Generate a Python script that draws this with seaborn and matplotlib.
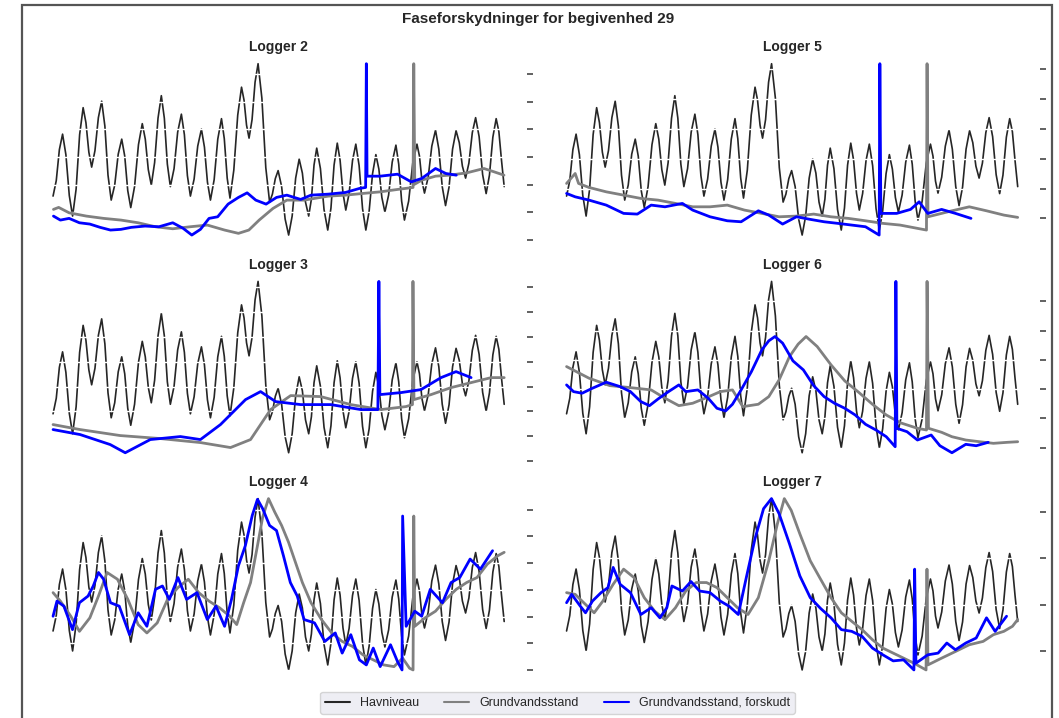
import numpy as np
import pandas as pd
import matplotlib
matplotlib.use("Agg")
import matplotlib.pyplot as plt
from matplotlib.ticker import MultipleLocator
from matplotlib.patches import Rectangle
from matplotlib.lines import Line2D
import seaborn as sns

# ---------------- data (time index, water level in cm) ----------------
havniveau_t = [0, 3.2, 6.3, 9.5, 12.8, 16.2, 19.5, 23, 26.5, 30, 32.8, 35.7, 38.5, 41.8, 45.2, 48.5,
               51.7, 54.8, 58, 61.5, 65, 68.5, 71.5, 74.5, 77.5, 81.3, 85.2, 89, 92, 95, 98, 101.3,
               104.7, 108, 111, 114, 117, 120.7, 124.3, 128, 131, 134, 137, 140.7, 144.3, 148, 151,
               154, 157, 160.7, 164.3, 168, 170.8, 173.7, 176.5, 180.3, 184.2, 188, 190.5, 193, 195.5,
               198.5, 201.5, 204.5, 208.3, 212.2, 216, 218.8, 221.7, 224.5, 228, 231.5, 235, 238.5,
               242, 245.5, 248.7, 251.8, 255, 257.7, 260.3, 263, 266.7, 270.3, 274, 277.2, 280.3,
               283.5, 286.3, 289.2, 292, 295.3, 298.7, 302, 305.3, 308.7, 312, 315.3, 318.7, 322, 325,
               328, 331, 334.7, 338.3, 342, 344.8, 347.7, 350.5, 354.7, 358.8, 363, 365.5, 368, 370.5,
               374.2, 377.8, 381.5, 384.8, 388.2, 391.5, 395, 398.5, 402, 405.2, 408.3, 411.5, 414.8,
               418.2, 421.5, 425, 428.5, 432, 435.3, 438.7, 442, 444.7, 447.3, 450]
havniveau_cm = [-46, -30.5, 0.5, 16, -4.5, -45.5, -66, -39, 15.5, 42.5, 27.5, -2, -17, -0.5, 32.5, 49,
                24, -25, -50, -35, -4, 11, -6, -40.5, -57.5, -36.5, 5.5, 26.5, 11, -19.5, -35, -12.5,
                32, 54.5, 32, -14, -36.5, -18.5, 18, 36, 15.5, -25.5, -46, -29, 4, 21, 3,
                -32, -50, -29.5, 11, 31.5, 11.5, -28, -48, -20, 35, 63, 50, 25, 12,
                30.5, 68, 86.5, 52, -17.5, -52, -44, -28.5, -20.5, -36.5, -69, -85, -66,
                -28, -9, -23, -52, -66, -49, -15, 2, -18.5, -59.5, -80, -58, -15,
                7, -10, -43, -60, -43.5, -10.5, 6, -15.5, -58.5, -80, -61, -23.5, -4.5, -19,
                -47.5, -62, -45, -12, 5, -14, -51, -70, -51, -13, 6, -6, -31, -43,
                -27, 4, 20, 1, -36.5, -55.5, -37, 1, 19.5, 7.5, -16, -28, -13,
                17.5, 32.5, 13.5, -24.5, -43.5, -25, 13, 31.5, 18.5, -10, -36.5]

# Logger 2
l2_grund_t = [0.4, 5.6, 16, 33.2, 50.4, 67.7, 84.9, 102.2, 119.4, 136.7, 153.9, 171.1, 184.9, 195.3,
              205.6, 219.4, 233.2, 250.4, 274.6, 291.8, 309.1, 326.3, 343.6, 359.1, 359.8, 360.8,
              367.7, 381.5, 395.3, 412.5, 429.8, 440.1, 449.8]
l2_grund_cm = [30.7, 32.7, 27.3, 24, 21.7, 20, 17.3, 13.3, 11.3, 13.3, 15, 10, 6.7, 10, 20, 31.7, 40,
               40, 44, 45, 46.7, 48.3, 50.7, 52.7, 176.7, 56, 60, 64, 65, 67.3, 71.7, 68.3, 65]
l2_forsk_t = [0.4, 7.3, 16, 26.3, 36.7, 47, 57.3, 67.7, 78, 91.8, 105.6, 119.4, 129.8, 138.4, 147,
              155.6, 164.2, 174.6, 184.9, 193.6, 202.2, 212.5, 222.9, 233.2, 247, 257.3, 274.6,
              291.8, 305.6, 311.8, 312.5, 313.2, 326.3, 343.6, 357.3, 367.7, 381.5, 391.8, 402.2]
l2_forsk_cm = [24, 20, 21.7, 17.3, 16, 12.7, 10, 10.7, 12.7, 14, 13.3, 17.3, 11.7, 5, 10.7, 21.7,
               23.3, 36, 42.7, 47.3, 40, 36, 42.7, 45, 40.7, 45, 46, 47.7, 51.7, 52.7, 176.7, 64,
               64, 66, 58.3, 61.7, 71.7, 66.7, 65]

# Logger 5
l5_grund_t = [0, 8.6, 12, 22.4, 39.6, 56.9, 74.1, 91.3, 108.6, 125.8, 143.1, 160.3, 177.5, 194.8,
              212, 229.3, 246.5, 263.8, 281, 298.2, 315.5, 332.7, 350, 359, 359.6, 360.5, 384.4,
              401.7, 418.9, 436.2, 450]
l5_grund_cm = [35, 45, 35, 31, 26.6, 23.3, 20, 18.3, 15, 11.6, 11.6, 13.3, 8.3, 5, 1.6, 2.3, 4.3,
               1.6, 0, -2.4, -5, -6.7, -10, -11.7, 155, 1.6, 7.6, 11.6, 7.6, 3.3, 1]
l5_forsk_t = [0, 8.6, 22.4, 39.6, 56.9, 70.6, 84.4, 98.2, 115.5, 125.8, 143.1, 160.3, 174.1, 191.3,
              201.7, 215.5, 229.3, 243.1, 256.9, 270.6, 284.4, 298.2, 311.8, 312.5, 313.5, 329.3,
              343.1, 351.7, 360.3, 374.1, 387.9, 403.4]
l5_forsk_cm = [25, 21.6, 18.3, 13.3, 5, 4.3, 13.3, 11.6, 15, 8.3, 1.6, -2.4, -3.4, 7.6, 3.3, -5.7,
               1.6, -1, -3.4, -5, -6.7, -8.4, -16.7, 155, 5, 5, 9, 16.6, 5, 9, 5, 0]

# Logger 3
l3_grund_t = [0, 27, 67, 107, 147, 177, 197, 217, 237, 267, 297, 327, 352, 358.5, 359, 360, 377,
              397, 417, 437, 450]
l3_grund_cm = [36.7, 31.7, 25.7, 22.7, 18.7, 13.7, 21.7, 51.7, 65.7, 64.7, 56.7, 51.7, 54.7, 56.7,
               180, 61.7, 66.7, 73.7, 78.7, 83.7, 83.7]
l3_forsk_t = [0, 27, 57, 72, 97, 127, 147, 167, 192, 207, 222, 247, 277, 307, 324, 325, 326, 347,
              367, 387, 402, 417]
l3_forsk_cm = [31.7, 26.7, 16.7, 8.5, 21.7, 24.7, 21.7, 36.7, 61.7, 69.7, 59.7, 56.7, 56.7, 51.7,
               51.7, 180, 66.7, 68.7, 71.7, 83.7, 89.7, 83.7]

# Logger 6
l6_grund_t = [0, 22.4, 43.1, 63.7, 84.4, 98.2, 112, 125.8, 139.6, 153.4, 165.5, 175.8, 191.3, 201.7,
              212, 222.4, 231, 238.9, 250, 263.8, 277.5, 291.3, 305.1, 318.9, 332.7, 350, 359,
              359.6, 361, 374.1, 384.4, 398.2, 412, 425.8, 439.6, 450]
l6_grund_cm = [81, 69.4, 62, 60, 57.7, 49.4, 42, 44.4, 50, 56, 57.7, 41, 43.4, 51, 67.7, 91, 103.4,
               111, 101, 82.7, 66.7, 55.4, 43.4, 32.7, 25, 19.4, 17.7, 166, 19.4, 15.4, 11, 7.7, 6,
               4.4, 5.4, 6]
l6_forsk_t = [0, 6.9, 15.5, 25.8, 39.6, 53.4, 63.7, 74.1, 82.7, 91.3, 101.7, 112, 118.9, 131, 141.3,
              150, 158.6, 165.5, 174.1, 184.4, 194.8, 201.7, 207.9, 215.5, 225.8, 236.2, 246.5,
              256.9, 267.2, 277.5, 287.9, 298.2, 308.6, 318.9, 327.8, 328.5, 329.5, 339.6, 350,
              363.7, 372.4, 384.4, 398.2, 408.6, 420.6]
l6_forsk_cm = [62.7, 56, 54.4, 59.4, 65.4, 61, 56, 46, 42, 48.7, 56, 62.7, 56, 57.7, 49.4, 39.4,
               36.7, 43.4, 57.7, 76, 97.7, 106.7, 111, 104.4, 86.7, 77.7, 62, 51, 44.4, 39.4, 32.7,
               23.4, 17.7, 11, 1, 166, 19.4, 16, 7.7, 12.7, 2, -5, 3.4, 2, 5.4]

# Logger 4
l4_grund_t = [0, 7.3, 17.7, 26.3, 36.7, 45.3, 53.9, 64.2, 74.6, 84.9, 93.6, 103.9, 114.2, 124.6,
              134.9, 145.3, 155.6, 166, 176.3, 183.2, 190.1, 197, 203.9, 209.1, 214.9, 221.1, 228,
              234.9, 241.8, 248.7, 257.3, 267.7, 278, 288.4, 298.7, 309.1, 319.4, 329.8, 340.1,
              348.7, 355.6, 359.1, 359.8, 360.8, 371.1, 381.5, 391.8, 402.2, 412.5, 422.9, 433.2,
              443.6, 450]
l4_grund_cm = [76.7, 68.3, 53.3, 38.3, 51.7, 73.3, 96.7, 90, 70, 45, 36.7, 46.7, 70, 81.7, 90, 76.7,
               68.3, 61.7, 53.3, 45, 66.7, 86.7, 123.3, 151.7, 170, 156.7, 143.3, 126.7, 106.7,
               86.7, 66.7, 50, 36.7, 28.3, 23.3, 15, 10, 5, 3.3, 11.7, 1.7, 0, 152.7, 43.3, 51.7,
               58.3, 70, 80, 86.7, 91.7, 105, 113.3, 116.7]
l4_forsk_t = [0, 3.9, 10.8, 19.4, 26.3, 34.9, 40.1, 45.3, 50.4, 57.3, 66, 76.3, 84.9, 93.6, 102.2,
              109.1, 116, 124.6, 133.2, 143.6, 153.9, 162.5, 171.1, 178, 184.9, 191.8, 198.7,
              203.9, 209.1, 216, 222.9, 229.8, 236.7, 243.6, 250.4, 260.8, 271.1, 281.5, 288.4,
              297, 305.6, 312.5, 319.4, 326.3, 336.6, 343.6, 348.1, 348.7, 352.2, 360.8, 367.7,
              376.3, 388.4, 397, 405.7, 416, 426.3, 438.4]
l4_forsk_cm = [53.3, 68.3, 63.3, 40, 66.7, 73.3, 83.3, 96.7, 90, 66.7, 63.3, 35, 56.7, 43.3, 80,
               83.3, 70, 91.7, 70, 76.7, 50, 63.3, 43.3, 70, 103.3, 123.3, 153.3, 169.3, 160,
               143.3, 138.3, 113.3, 86.7, 73.3, 50, 46.7, 28.3, 36.7, 16.7, 35, 10, 5, 21.7, 3.3,
               25, 8.3, 0, 152.7, 43.3, 58.3, 53.3, 80, 66.7, 86.7, 91.7, 110, 100, 118.3]

# Logger 7
l7_grund_t = [0, 8.6, 18.9, 27.5, 36.2, 46.5, 56.9, 67.2, 77.5, 87.9, 98.2, 108.6, 118.9, 129.3,
              139.6, 150, 160.3, 170.6, 181, 191.3, 201.7, 210.3, 217.2, 224.1, 232.7, 243.1,
              253.4, 263.8, 274.1, 284.4, 294.8, 305.1, 315.5, 325.8, 336.2, 346.5, 358.6, 359.5,
              360.5, 374.1, 387.9, 401.7, 415.5, 425.8, 436.2, 444.8, 450]
l7_grund_cm = [57.7, 56, 46, 37.7, 49.3, 66, 81, 72.7, 52.7, 39.3, 31, 42.7, 59.3, 67.7, 67.7, 62.7,
               52.7, 42.7, 36, 52.7, 89.3, 126, 151, 139.3, 116, 89.3, 71, 52.7, 37.7, 29.3, 21,
               11, 2.7, -2.3, -7.3, -12.3, -19, 81, -14, -7.3, -0.7, 6, 9.3, 16, 19.3, 24.3, 31]
l7_forsk_t = [0, 5.1, 13.7, 18.9, 25.8, 34.4, 41.3, 46.5, 53.4, 63.7, 74.1, 84.4, 93.1, 100, 105.1,
              115.5, 124.1, 132.7, 143.1, 153.4, 162, 171.3, 179.3, 187.9, 196.5, 204.4, 212,
              222.4, 232.7, 243.1, 253.4, 263.8, 274.1, 284.4, 294.8, 305.1, 315.5, 325.8, 336.2,
              346.5, 347.2, 348.5, 360.3, 370.6, 379.3, 387.9, 398.2, 408.6, 418.9, 427.5, 438.9]
l7_forsk_cm = [47.7, 56, 44.3, 37.7, 49.3, 57.7, 62.7, 82.7, 66, 57.7, 36, 42.7, 32.7, 42.7, 64.3,
               59.3, 68.7, 59.3, 57.7, 49.3, 44.3, 36, 72.7, 111, 141, 151, 136, 106, 74.3, 52.7,
               42, 32.7, 21, 19.3, 14.3, 2.7, -4, -10, -9, -19, 81, -12.3, -4, -2.3, 7.7, 1, 7.7,
               12.7, 32.7, 19.3, 34.3]

logger_names = ["Logger 2", "Logger 5", "Logger 3", "Logger 6", "Logger 4", "Logger 7"]
series_labels = ["Havniveau", "Grundvandsstand", "Grundvandsstand, forskudt"]

# ---------------- style ----------------
sns.set_theme(style="darkgrid")
plt.rcParams["font.family"] = ["Liberation Sans", "DejaVu Sans"]

C_HAV = "#262626"
C_GRUND = "#808080"
C_FORSK = "#0000ff"

fig = plt.figure(figsize=(10.59, 7.18), dpi=100)

grund = [(l2_grund_t, l2_grund_cm), (l5_grund_t, l5_grund_cm), (l3_grund_t, l3_grund_cm),
         (l6_grund_t, l6_grund_cm), (l4_grund_t, l4_grund_cm), (l7_grund_t, l7_grund_cm)]
forsk = [(l2_forsk_t, l2_forsk_cm), (l5_forsk_t, l5_forsk_cm), (l3_forsk_t, l3_forsk_cm),
         (l6_forsk_t, l6_forsk_cm), (l4_forsk_t, l4_forsk_cm), (l7_forsk_t, l7_forsk_cm)]
grid_steps = [27.7, 29.85, 24.9, 29.2, 26.5, 45.9]

lefts = [0.0288, 0.5137]
width = 0.4686
bottoms = [0.6607, 0.3575, 0.0550]
height = 0.2625

for i, name in enumerate(logger_names):
    row, col = divmod(i, 2)
    ax = fig.add_axes([lefts[col], bottoms[row], width, height])
    ax.set_facecolor("white")
    sns.lineplot(x=havniveau_t, y=havniveau_cm, ax=ax, color=C_HAV, lw=1.2,
                 estimator=None, sort=False)
    ax.grid(False)
    ax.set_xticks([])
    ax.set_yticks([])
    ax.set_xlabel("")
    ax.set_ylabel("")
    for sp in ax.spines.values():
        sp.set_visible(False)
    ax.set_title(name, fontsize=10, fontweight="bold", color="#262626", pad=3)

    ax2 = ax.twinx()
    gt, gv = grund[i]
    ft, fv = forsk[i]
    df = pd.concat([
        pd.DataFrame({"t": gt, "cm": gv, "serie": series_labels[1]}),
        pd.DataFrame({"t": ft, "cm": fv, "serie": series_labels[2]}),
    ], ignore_index=True)
    sns.lineplot(data=df, x="t", y="cm", hue="serie",
                 hue_order=[series_labels[1], series_labels[2]],
                 palette={series_labels[1]: C_GRUND, series_labels[2]: C_FORSK},
                 lw=2.0, estimator=None, sort=False, ax=ax2, legend=False)
    ax2.set_xlabel("")
    ax2.set_ylabel("")
    ax2.grid(True, axis="y", color="white", lw=1.0)
    ax2.yaxis.set_major_locator(MultipleLocator(grid_steps[i]))
    ax2.tick_params(axis="y", which="major", right=True, left=False, labelright=False,
                    labelleft=False, length=4.5, width=1.3, color="#555555", direction="out")
    for sp in ax2.spines.values():
        sp.set_visible(False)

fig.suptitle("Faseforskydninger for begivenhed 29", x=0.508, y=0.973, va="center",
             fontsize=11, fontweight="bold", color="#262626")

handles = [Line2D([], [], color=C_HAV, lw=1.5),
           Line2D([], [], color=C_GRUND, lw=1.5),
           Line2D([], [], color=C_FORSK, lw=1.5)]
fig.legend(handles, series_labels, loc="center", bbox_to_anchor=(0.5264, 0.0209), ncol=3,
           fontsize=9, frameon=True)

fig.patches.append(Rectangle((0.0208, -0.02), 0.9726, 1.013, transform=fig.transFigure,
                             fill=False, edgecolor="#555555", lw=1.6, zorder=10))

fig.savefig("out.png", dpi=100)
